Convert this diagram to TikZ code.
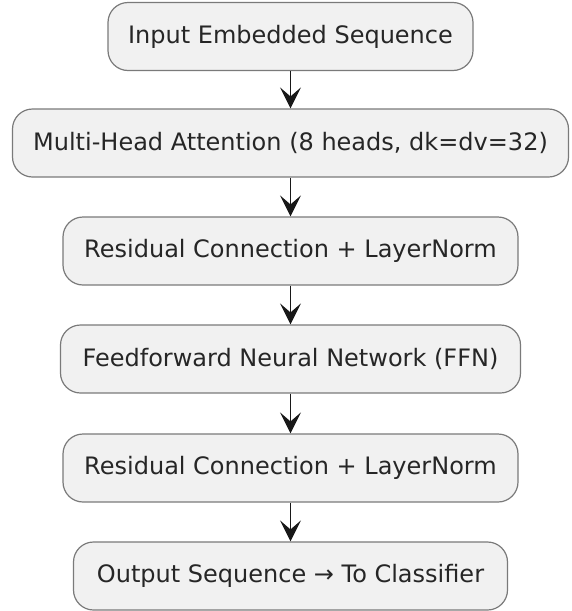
\documentclass[tikz,border=0pt]{standalone}
\usepackage{fontspec}
\setmainfont{DejaVu Sans}
\usetikzlibrary{arrows.meta}
\definecolor{boxfill}{HTML}{F1F1F1}
\definecolor{boxline}{HTML}{7A7A7A}
\definecolor{flowline}{HTML}{181818}
\tikzset{
  stage/.style={draw=boxline, line width=1.2pt, fill=boxfill, rounded corners=20pt,
    minimum height=68pt, inner sep=0pt, text=black!85,
    font=\fontsize{24}{28}\selectfont},
  flow/.style={draw=flowline, line width=1.6pt,
    -{Stealth[length=21pt, width=21pt, inset=9pt]}}
}
\begin{document}
\begin{tikzpicture}[x=1pt, y=-1pt]
  \useasboundingbox (0,0) rectangle (571,611);
  \node[stage, minimum width=365pt] (inp) at (290.5,36.5) {Input Embedded Sequence};
  \node[stage, minimum width=556pt] (mha) at (290.5,143) {Multi-Head Attention (8 heads, dk=dv=32)};
  \node[stage, minimum width=455pt] (res1) at (290.5,251) {Residual Connection + LayerNorm};
  \node[stage, minimum width=460pt] (ffn) at (290.5,359) {Feedforward Neural Network (FFN)};
  \node[stage, minimum width=455pt] (res2) at (290.5,468) {Residual Connection + LayerNorm};
  \node[stage, minimum width=434pt] (out) at (290.5,576) {Output Sequence → To Classifier};
  \draw[flow] (inp) -- (mha);
  \draw[flow] (mha) -- (res1);
  \draw[flow] (res1) -- (ffn);
  \draw[flow] (ffn) -- (res2);
  \draw[flow] (res2) -- (out);
\end{tikzpicture}
\end{document}
